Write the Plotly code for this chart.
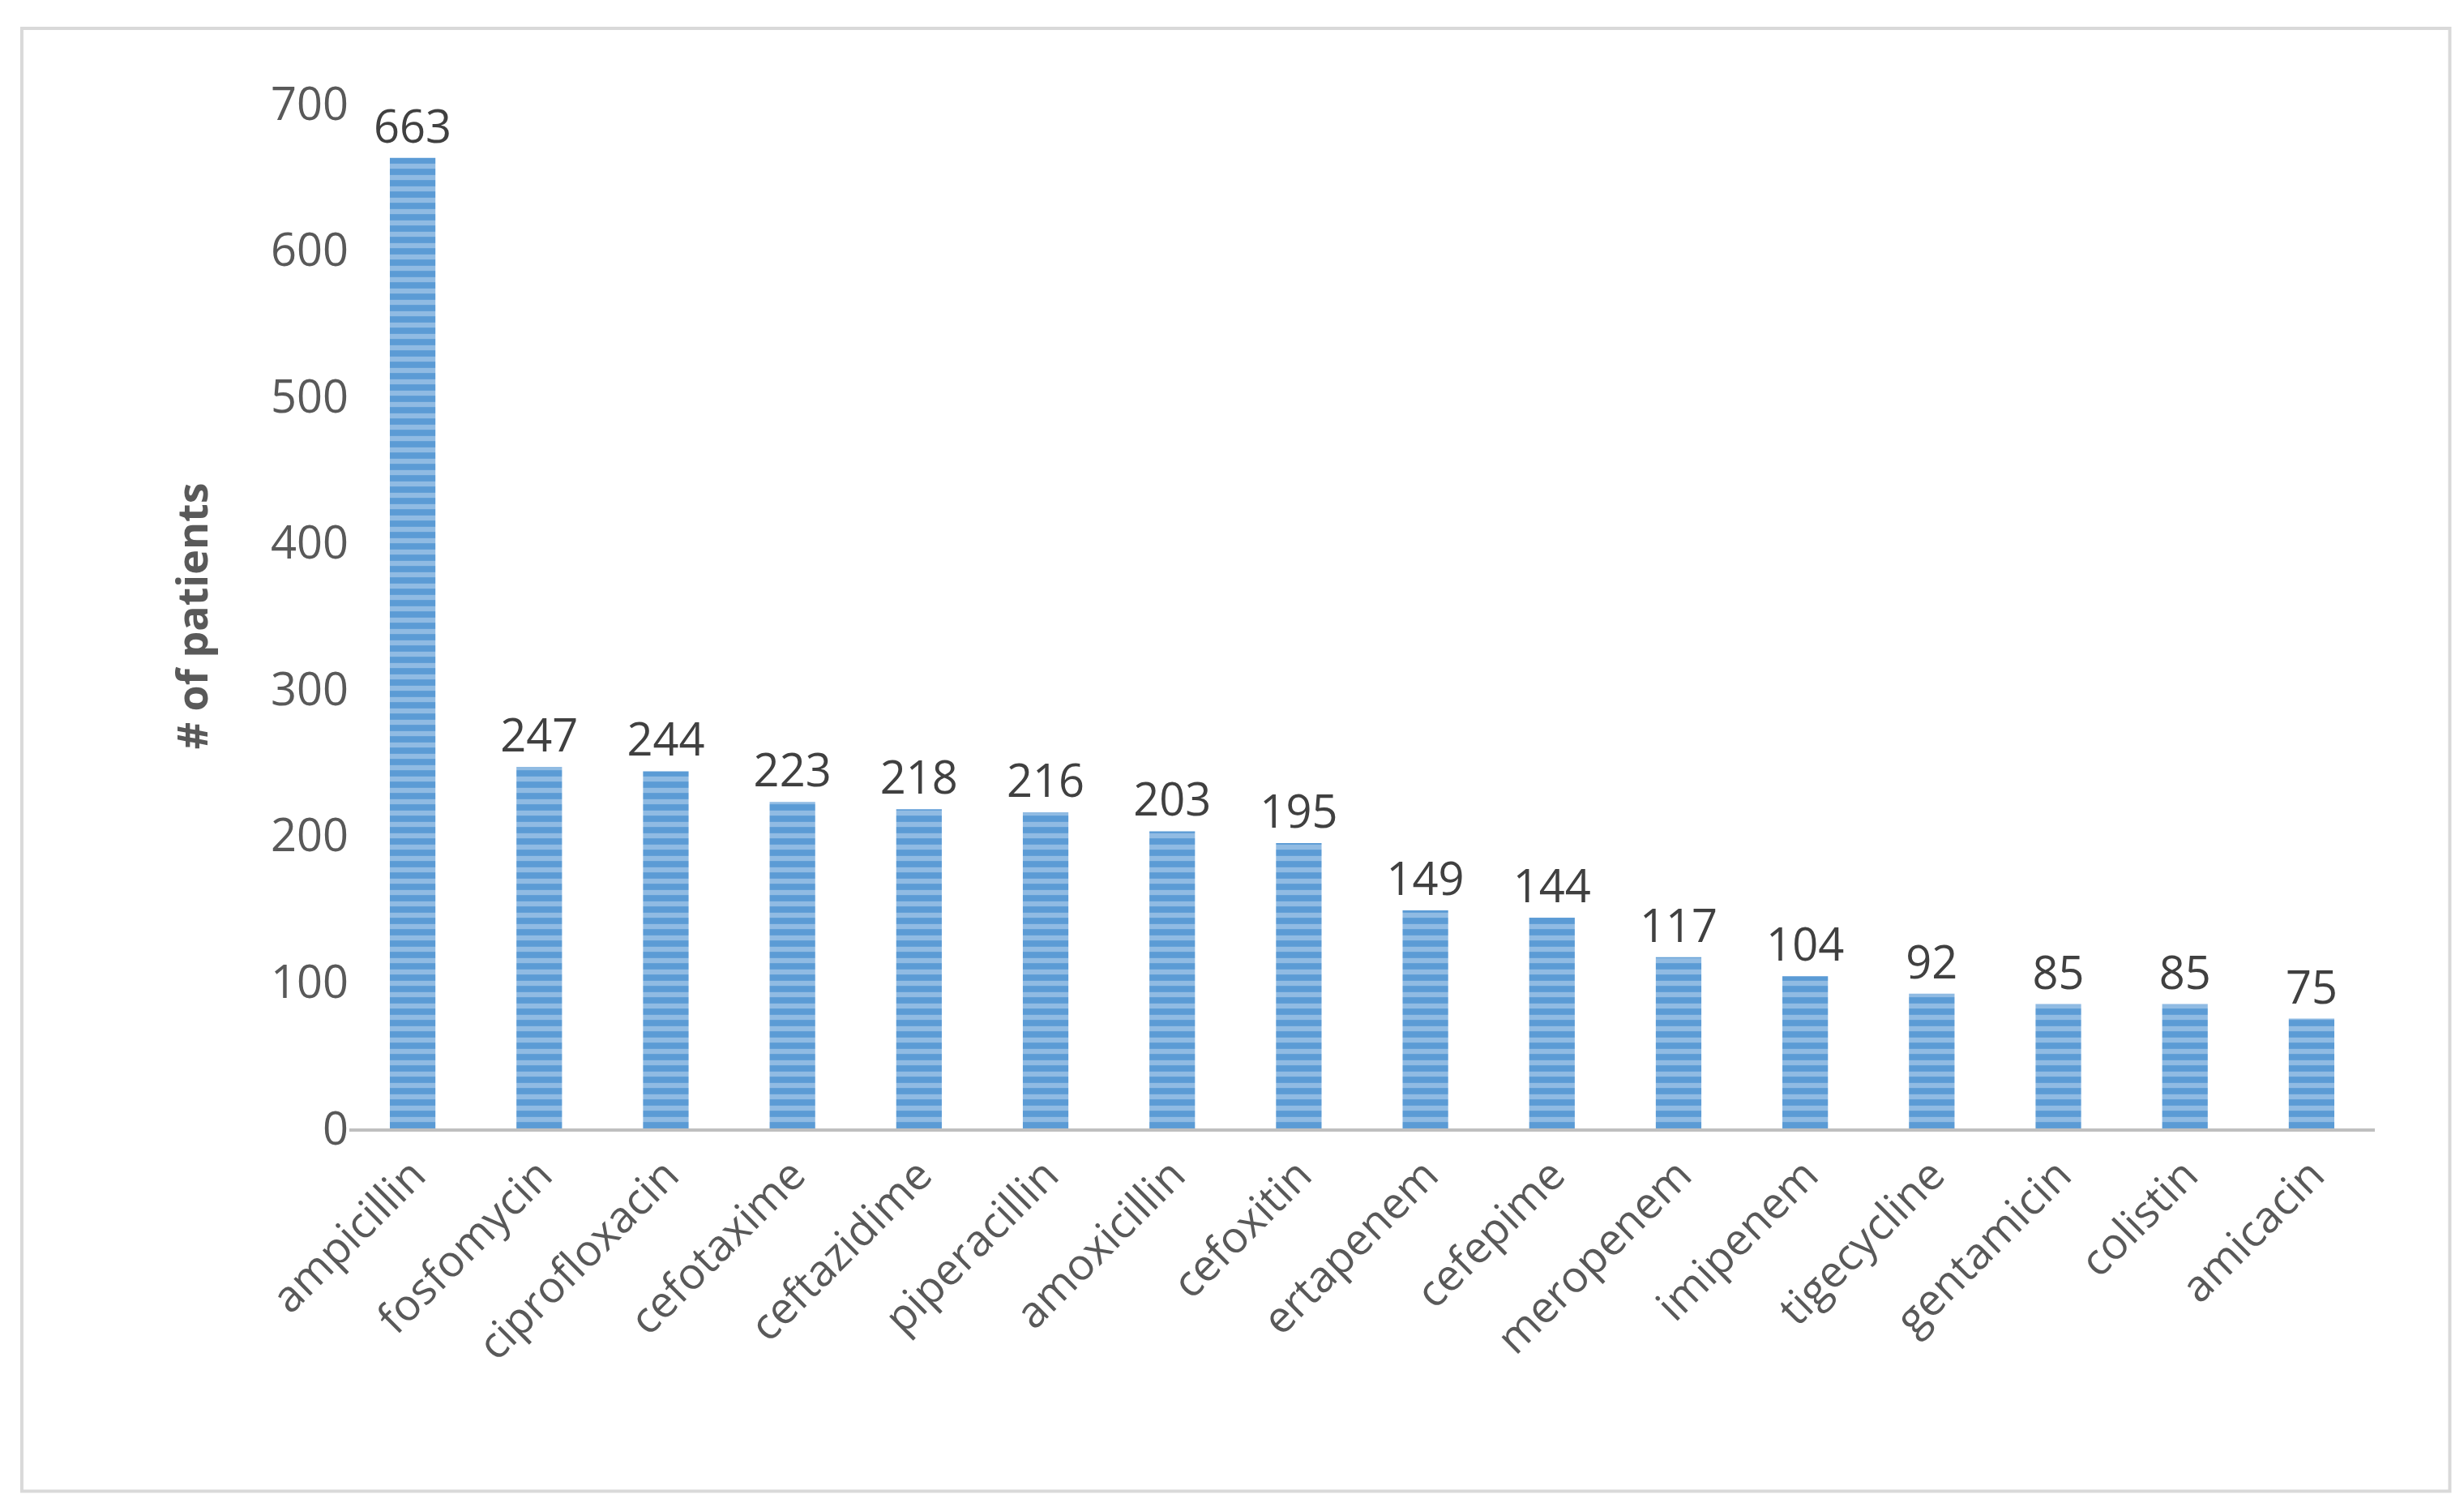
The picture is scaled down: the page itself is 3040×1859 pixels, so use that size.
import plotly.graph_objects as go

drugs = ["ampicillin","fosfomycin","ciprofloxacin","cefotaxime","ceftazidime","piperacillin",
         "amoxicillin","cefoxitin","ertapenem","cefepime","meropenem","imipenem","tigecycline",
         "gentamicin","colistin","amicacin"]
patients = [663,247,244,223,218,216,203,195,149,144,117,104,92,85,85,75]
yticks = [0,100,200,300,400,500,600,700]

fig = go.Figure(go.Bar(
    x=drugs, y=patients, width=0.36,
    text=[str(v) for v in patients], textposition="outside", cliponaxis=False,
    constraintext="none",
    textfont=dict(size=56, color="#404040"),
    marker=dict(color="#5b9bd5", line=dict(width=0),
                pattern=dict(shape="-", fgcolor="#c5dcf2", bgcolor="#5b9bd5", size=14, solidity=0.45)),
))
fig.update_layout(
    width=3040, height=1859, plot_bgcolor="white", paper_bgcolor="white",
    margin=dict(l=423, r=118, t=120, b=475),
    font=dict(family="Open Sans", color="#595959"),
    showlegend=False,
    xaxis=dict(tickangle=-45, tickfont=dict(size=54, color="#595959"), showline=True,
               linecolor="#bfbfbf", linewidth=4, ticks=""),
    yaxis=dict(range=[0,700], tickvals=yticks, tickfont=dict(size=56, color="#595959"),
               showgrid=False, zeroline=False, ticks="", ticklen=0,
               title=dict(text="<b># of patients</b>", font=dict(size=52, color="#595959"), standoff=60)),
    shapes=[dict(type="rect", xref="paper", yref="paper", x0=-0.1617, x1=1.037, y0=-0.354, y1=1.0736,
                 line=dict(color="#d9d9d9", width=4))],
)
fig.write_html("out.html")
